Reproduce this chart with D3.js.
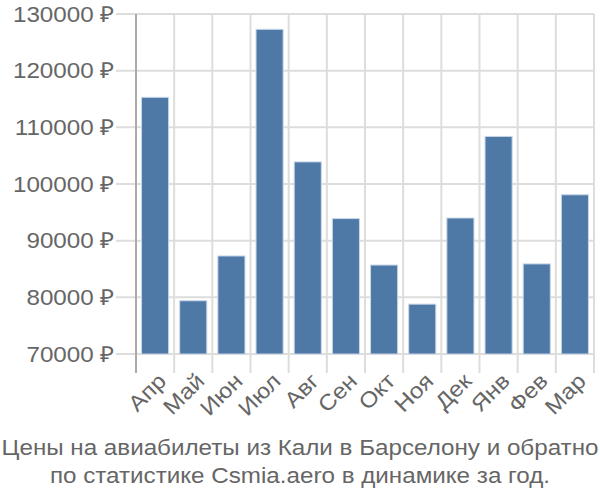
<!DOCTYPE html>
<html>
<head>
<meta charset="utf-8">
<script src="https://cdn.jsdelivr.net/npm/d3@7"></script>
<style>
  html, body { margin: 0; padding: 0; background: #fff; }
  svg { display: block; }
  text { font-family: "Liberation Sans", Arial, sans-serif; fill: #666; }
</style>
</head>
<body>
<svg id="chart" width="600" height="500"></svg>
<script>
const months = ["Апр", "Май", "Июн", "Июл", "Авг", "Сен", "Окт", "Ноя", "Дек", "Янв", "Фев", "Мар"];
const prices = [115300, 79400, 87300, 127300, 103900, 93900, 85700, 78800, 94000, 108400, 85900, 98100];
const yTicks = [70000, 80000, 90000, 100000, 110000, 120000, 130000];
const titleLines = ["Цены на авиабилеты из Кали в Барселону и обратно", "по статистике Csmia.aero в динамике за год."];

const svg = d3.select("#chart");
const mLeft = 136, mRight = 594, mTop = 14, mBottom = 354;
const sx = 1.1;

const x = d3.scaleBand().domain(months).range([mLeft, mRight]).padding(0);
const y = d3.scaleLinear().domain([70000, 130000]).range([mBottom, mTop]);

// horizontal gridlines + tick marks
svg.append("g").selectAll("line").data(yTicks).join("line")
  .attr("x1", mLeft - 20).attr("x2", mRight)
  .attr("y1", d => y(d)).attr("y2", d => y(d))
  .attr("stroke", "#ddd").attr("stroke-width", 2);

// vertical gridlines at band boundaries
const bounds = months.map(m => x(m)).concat([mRight]);
svg.append("g").selectAll("line").data(bounds.slice(1)).join("line")
  .attr("x1", d => d).attr("x2", d => d)
  .attr("y1", mTop).attr("y2", mBottom + 19)
  .attr("stroke", "#ddd").attr("stroke-width", 2);

// left axis line
svg.append("line").attr("x1", mLeft).attr("x2", mLeft)
  .attr("y1", mTop).attr("y2", mBottom + 19)
  .attr("stroke", "#aaa").attr("stroke-width", 2);

// y tick labels
svg.append("g").selectAll("text").data(yTicks).join("text")
  .attr("transform", d => `translate(${mLeft - 22},${y(d)}) scale(${sx},1)`)
  .attr("dy", "0.35em")
  .attr("text-anchor", "end")
  .attr("font-size", 22)
  .text(d => d + " ₽");

// bars
const bw = x.step() * 0.71;
const off = (x.step() - bw) / 2;
svg.append("g").selectAll("rect").data(months).join("rect")
  .attr("x", (d) => x(d) + off)
  .attr("width", bw)
  .attr("y", (d, i) => y(prices[i]))
  .attr("height", (d, i) => mBottom - y(prices[i]))
  .attr("fill", "#4e79a7")
  .attr("stroke", "#c9d7e8").attr("stroke-width", 1);

// x labels
svg.append("g").selectAll("text").data(months).join("text")
  .attr("transform", d => `translate(${x(d) + x.bandwidth() / 2 + 7},${mBottom + 23}) rotate(-45) scale(${sx},1)`)
  .attr("text-anchor", "end")
  .attr("dy", "0.35em")
  .attr("font-size", 22)
  .text(d => d);

// title
svg.append("g").selectAll("text").data(titleLines).join("text")
  .attr("transform", (d, i) => `translate(300,${455 + i * 27.5}) scale(${sx},1)`)
  .attr("text-anchor", "middle")
  .attr("font-size", 22)
  .text(d => d);
</script>
</body>
</html>
